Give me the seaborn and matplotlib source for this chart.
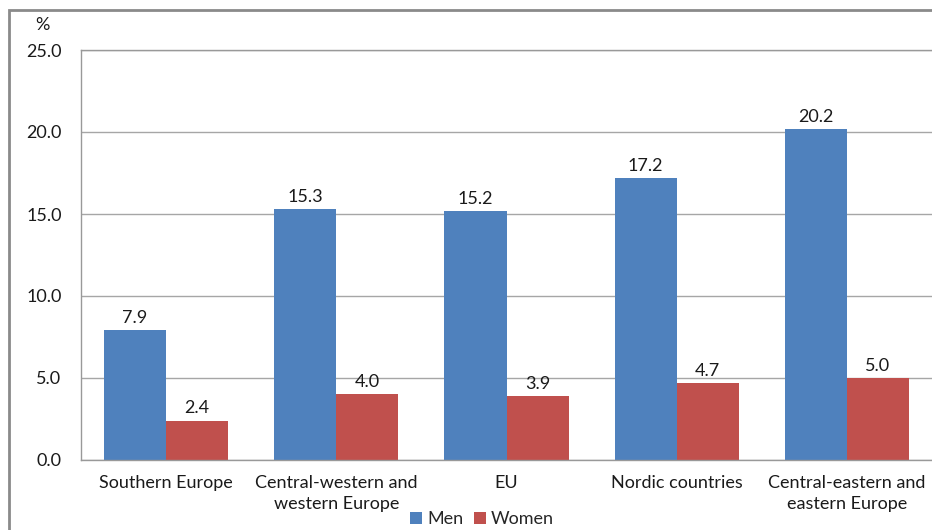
import matplotlib
matplotlib.use("Agg")
import matplotlib.pyplot as plt
import pandas as pd
import seaborn as sns
from matplotlib.patches import Rectangle

regions = ["Southern Europe", "Central-western and\nwestern Europe", "EU",
           "Nordic countries", "Central-eastern and\neastern Europe"]
men = [7.9, 15.3, 15.2, 17.2, 20.2]
women = [2.4, 4.0, 3.9, 4.7, 5.0]
y_ticks = [0, 5, 10, 15, 20, 25]

COLORS = {"Men": "#4F81BD", "Women": "#C0504D"}
FS = 13

df = pd.DataFrame({
    "region": regions * 2,
    "value": men + women,
    "sex": ["Men"] * len(men) + ["Women"] * len(women),
})

sns.set_theme(style="white")
plt.rcParams["font.family"] = ["Lato", "DejaVu Sans"]

fig = plt.figure(figsize=(9.32, 5.30), dpi=100)
ax = fig.add_axes([81 / 932, 1 - 460 / 530, 851 / 932, 410 / 530])

sns.barplot(data=df, x="region", y="value", hue="sex", palette=COLORS,
            width=0.73, saturation=1, linewidth=0, ax=ax, legend=True)

for cont in ax.containers:
    ax.bar_label(cont, fmt="%.1f", padding=3, fontsize=FS, color="#1a1a1a")

ax.set_ylim(0, 25)
ax.set_xlim(-0.5, 4.5)
ax.set_yticks(y_ticks)
ax.set_yticklabels([f"{t:.1f}" for t in y_ticks])
ax.yaxis.grid(True, color="#a6a6a6", linewidth=1)
ax.set_axisbelow(True)
ax.set_xlabel("")
ax.set_ylabel("")
ax.tick_params(axis="both", length=0, labelsize=FS, colors="#1a1a1a", pad=14)
ax.tick_params(axis="x", pad=11)
for lbl in ax.get_xticklabels():
    lbl.set_linespacing(1.35)
for side in ["left", "top", "bottom"]:
    ax.spines[side].set_color("#999999")
    ax.spines[side].set_linewidth(1)
ax.spines["right"].set_visible(False)

handles, labels = ax.get_legend_handles_labels()
ax.get_legend().remove()
fig.legend(handles, labels, loc="center", bbox_to_anchor=(482 / 932, 1 - 519 / 530),
           ncol=2, frameon=False, fontsize=FS, handlelength=0.65, handleheight=0.65,
           handletextpad=0.3, columnspacing=0.6)

fig.text(42 / 932, 1 - 25 / 530, "%", ha="center", va="center", fontsize=FS, color="#1a1a1a")

# outer chart frame
fig.patches.append(Rectangle((8.5 / 932, -0.1), 1.2, 1 - 10 / 530 + 0.1,
                             transform=fig.transFigure, fill=False,
                             edgecolor="#8a8a8a", linewidth=2))

fig.savefig("out.png", dpi=100)
